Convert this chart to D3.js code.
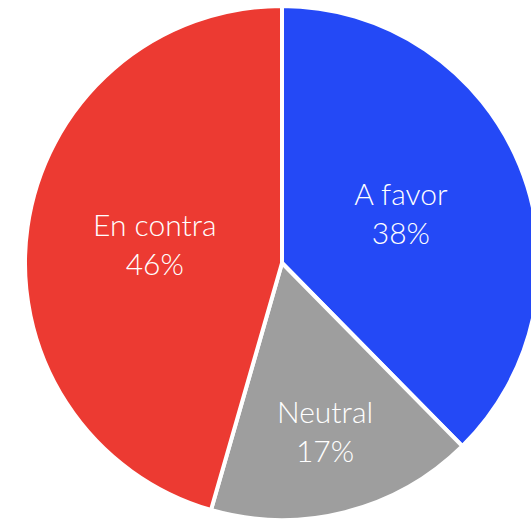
<!DOCTYPE html>
<html><head><meta charset="utf-8">
<script src="https://cdn.jsdelivr.net/npm/d3@7"></script>
<style>html,body{margin:0;padding:0;background:#fff;}</style>
</head><body>
<svg id="chart" width="531" height="521"></svg>
<script>
const categories = ["A favor", "Neutral", "En contra"];
const values = [38, 17, 46];
const labels = ["38%", "17%", "46%"];
const colors = ["#2449F6", "#9E9E9E", "#EC3A32"];

const svg = d3.select("#chart");
const cx = 282, cy = 263, R = 257;
const g = svg.append("g").attr("transform", `translate(${cx},${cy})`);
const pie = d3.pie().sort(null).value(d => d.v);
const data = categories.map((c, i) => ({c, v: values[i], l: labels[i], col: colors[i]}));
const arcs = pie(data);
const arc = d3.arc().innerRadius(0).outerRadius(R);
g.selectAll("path").data(arcs).join("path")
  .attr("d", arc).attr("fill", d => d.data.col)
  .attr("stroke", "#fff").attr("stroke-width", 4).attr("stroke-linejoin", "round");
// small slices get their label pushed further out
const labelArc = d => {
  const f = (d.endAngle - d.startAngle) < 1.2 ? 0.68 : 0.5;
  return d3.arc().innerRadius(R * f).outerRadius(R * f).centroid(d);
};
const t = g.selectAll("text").data(arcs).join("text")
  .attr("transform", d => `translate(${labelArc(d)})`)
  .attr("text-anchor", "middle")
  .attr("fill", "#fff")
  .style("font-family", "Lato, 'Noto Sans', sans-serif")
  .style("font-weight", 300)
  .style("font-size", "30px");
t.append("tspan").attr("x", 0).attr("y", -9).text(d => d.data.c);
t.append("tspan").attr("x", 0).attr("y", 30).text(d => d.data.l);
</script>
</body></html>
